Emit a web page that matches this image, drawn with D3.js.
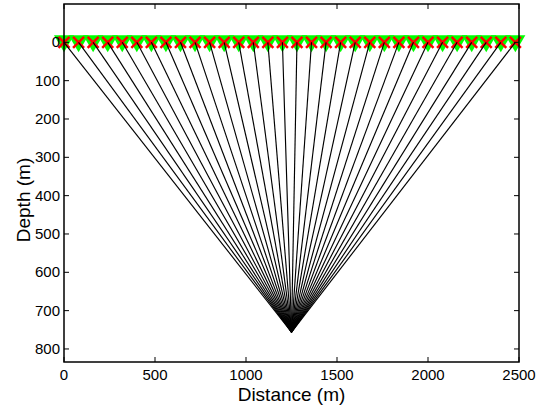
<!DOCTYPE html>
<html>
<head>
<meta charset="utf-8">
<script src="https://cdn.jsdelivr.net/npm/d3@7"></script>
<style>
  body { margin: 0; background: #fff; }
  text { font-family: "Liberation Sans", Arial, sans-serif; fill: #000; }
</style>
</head>
<body>
<svg id="chart" width="549" height="412"></svg>
<script>
// receiver positions along the surface (m)
var receiverX = [0, 80, 160, 240, 320, 400, 480, 560, 640, 720, 800, 880, 960, 1040,
  1120, 1200, 1280, 1360, 1440, 1520, 1600, 1680, 1760, 1840, 1920, 2000, 2080,
  2160, 2240, 2320, 2400, 2480];
var receiverDepth = 0;

// source point
var sourceX = 1250;
var sourceDepth = 756;

var xTicks = [0, 500, 1000, 1500, 2000, 2500];
var yTicks = [0, 100, 200, 300, 400, 500, 600, 700, 800];
var xDomain = [0, 2500];
var yDomain = [-100, 834];

var svg = d3.select('#chart');

// plot box (note: "top" is reserved on window, so use a margin object)
var box = { left: 64, right: 519, top: 4, bottom: 362 };

var x = d3.scaleLinear().domain(xDomain).range([box.left, box.right]);
var y = d3.scaleLinear().domain(yDomain).range([box.top, box.bottom]);

function pos(d) { return 'translate(' + x(d) + ',' + y(receiverDepth) + ')'; }

// markers: green triangles under red crosses
svg.append('g')
  .selectAll('path')
  .data(receiverX)
  .enter().append('path')
    .attr('d', 'M-10,-7 L10,-7 L0,10 Z')
    .attr('transform', pos)
    .attr('fill', '#00ff00');

svg.append('g')
  .selectAll('path')
  .data(receiverX)
  .enter().append('path')
    .attr('d', 'M-5.5,-5.5 L5.5,5.5 M-5.5,5.5 L5.5,-5.5')
    .attr('transform', pos)
    .attr('stroke', '#ff0000')
    .attr('stroke-width', 2.5)
    .attr('fill', 'none');

// ray paths from every receiver to the source
svg.append('g')
  .selectAll('line')
  .data(receiverX)
  .enter().append('line')
    .attr('x1', function(d) { return x(d); })
    .attr('y1', y(receiverDepth))
    .attr('x2', x(sourceX))
    .attr('y2', y(sourceDepth))
    .attr('stroke', '#000')
    .attr('stroke-width', 1.15);

// axes with inward ticks on all four sides
var ax = svg.append('g');

ax.append('rect')
  .attr('x', box.left).attr('y', box.top)
  .attr('width', box.right - box.left).attr('height', box.bottom - box.top)
  .attr('fill', 'none').attr('stroke', '#000').attr('stroke-width', 1.5);

xTicks.forEach(function(t) {
  ax.append('line').attr('x1', x(t)).attr('x2', x(t)).attr('y1', box.bottom).attr('y2', box.bottom - 5)
    .attr('stroke', '#000');
  ax.append('line').attr('x1', x(t)).attr('x2', x(t)).attr('y1', box.top).attr('y2', box.top + 5)
    .attr('stroke', '#000');
  ax.append('text').attr('x', x(t)).attr('y', box.bottom + 18)
    .attr('text-anchor', 'middle').style('font-size', '15px').text(t);
});

yTicks.forEach(function(t) {
  ax.append('line').attr('x1', box.left).attr('x2', box.left + 5).attr('y1', y(t)).attr('y2', y(t))
    .attr('stroke', '#000');
  ax.append('line').attr('x1', box.right).attr('x2', box.right - 5).attr('y1', y(t)).attr('y2', y(t))
    .attr('stroke', '#000');
  ax.append('text').attr('x', box.left - 4).attr('y', y(t) + 5)
    .attr('text-anchor', 'end').style('font-size', '15px').text(t);
});

svg.append('text')
  .attr('x', (box.left + box.right) / 2).attr('y', 401)
  .attr('text-anchor', 'middle').style('font-size', '19px')
  .text('Distance (m)');

svg.append('text')
  .attr('transform', 'translate(30,200) rotate(-90)')
  .attr('text-anchor', 'middle').style('font-size', '19px')
  .text('Depth (m)');
</script>
</body>
</html>
